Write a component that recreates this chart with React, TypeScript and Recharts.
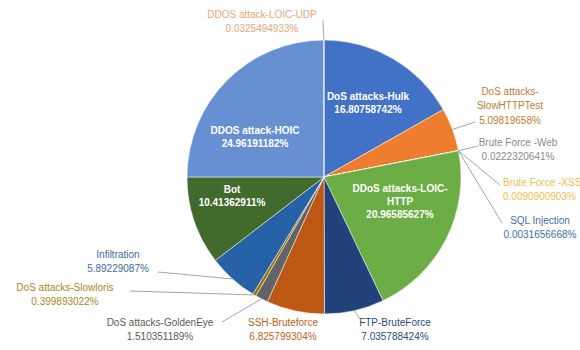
import { PieChart, Pie, Cell } from 'recharts';

const categories = [
  'DoS attacks-Hulk',
  'DoS attacks-SlowHTTPTest',
  'Brute Force -Web',
  'Brute Force -XSS',
  'SQL Injection',
  'DDoS attacks-LOIC-HTTP',
  'FTP-BruteForce',
  'SSH-Bruteforce',
  'DoS attacks-GoldenEye',
  'DoS attacks-Slowloris',
  'Infiltration',
  'Bot',
  'DDOS attack-HOIC',
  'DDOS attack-LOIC-UDP',
];

const percents = [
  16.80758742, 5.09819658, 0.0222320641, 0.0090900903, 0.0031656668,
  20.96585627, 7.035788424, 6.825799304, 1.510351189, 0.399893022,
  5.89229087, 10.41362911, 24.96191182, 0.0325494933,
];

const sliceColors = [
  '#4272c6', '#ee7d30', '#a5a5a5', '#ffc000', '#5b9bd5',
  '#6cae45', '#22427c', '#bd5714', '#636363', '#997300',
  '#2762a6', '#426a2c', '#6790d3', '#f1975a',
];

const labelColors = [
  '#ffffff', '#c8792f', '#8a8a8a', '#f0c04a', '#3f6db3',
  '#ffffff', '#2b4b82', '#c0601a', '#5a5a5a', '#a8871a',
  '#3a6ba5', '#ffffff', '#ffffff', '#e9a673',
];

// where each label sits: first-line centre, optional leader end, where to break the name
type Spot = { x: number; y: number; anchor?: 'start' | 'middle' | 'end'; lx?: number; ly?: number; split?: number; bold?: boolean };
const spots: Spot[] = [
  { x: 368, y: 97, bold: true },
  { x: 510, y: 92, split: 12, lx: 475, ly: 122 },
  { x: 518, y: 143, lx: 478, ly: 146 },
  { x: 503, y: 183, anchor: 'start', lx: 500, ly: 185 },
  { x: 540, y: 221, lx: 502, ly: 223 },
  { x: 400, y: 189, split: 18, bold: true },
  { x: 395, y: 323, lx: 360, ly: 319 },
  { x: 283, y: 323 },
  { x: 160, y: 323, lx: 222, ly: 322 },
  { x: 65, y: 288, lx: 130, ly: 291 },
  { x: 118, y: 255, lx: 158, ly: 272 },
  { x: 232, y: 190, bold: true },
  { x: 255, y: 131, bold: true },
  { x: 262, y: 15, lx: 323, ly: 20 },
];

const data = categories.map((name, i) => ({ name, value: percents[i] }));
const RAD = Math.PI / 180;

function renderLabel(props: any) {
  const { cx, cy, midAngle, outerRadius, index } = props;
  const s = spots[index];
  const name = categories[index];
  const lines = s.split ? [name.slice(0, s.split), name.slice(s.split)] : [name];
  lines.push(`${percents[index]}%`);
  const ex = cx + outerRadius * Math.cos(-midAngle * RAD);
  const ey = cy + outerRadius * Math.sin(-midAngle * RAD);
  const lh = s.bold ? 13 : 14.5;
  return (
    <g key={`lbl-${index}`}>
      {s.lx !== undefined && (
        <line x1={ex} y1={ey} x2={s.lx} y2={s.ly} stroke="#a6a6a6" strokeWidth={1} />
      )}
      {lines.map((t, k) => (
        <text
          key={k}
          x={s.x}
          y={s.y + k * lh}
          textAnchor={s.anchor ?? 'middle'}
          dominantBaseline="middle"
          fill={labelColors[index]}
          fontSize={10}
          fontWeight={s.bold ? 700 : 400}
          fontFamily="'Liberation Sans', Arial, sans-serif"
        >
          {t}
        </text>
      ))}
    </g>
  );
}

export default function App() {
  return (
    <div style={{ position: 'absolute', left: 0, top: 0, width: 580, height: 350, background: '#fff' }}>
      <PieChart width={580} height={350} margin={{ top: 0, right: 0, bottom: 0, left: 0 }}>
        <Pie
          data={data}
          dataKey="value"
          nameKey="name"
          cx={324}
          cy={177}
          outerRadius={137}
          startAngle={90}
          endAngle={-270}
          stroke="#ffffff"
          strokeWidth={0.5}
          label={renderLabel}
          labelLine={false}
          isAnimationActive={false}
        >
          {data.map((d, i) => (
            <Cell key={d.name} fill={sliceColors[i]} />
          ))}
        </Pie>
      </PieChart>
    </div>
  );
}
